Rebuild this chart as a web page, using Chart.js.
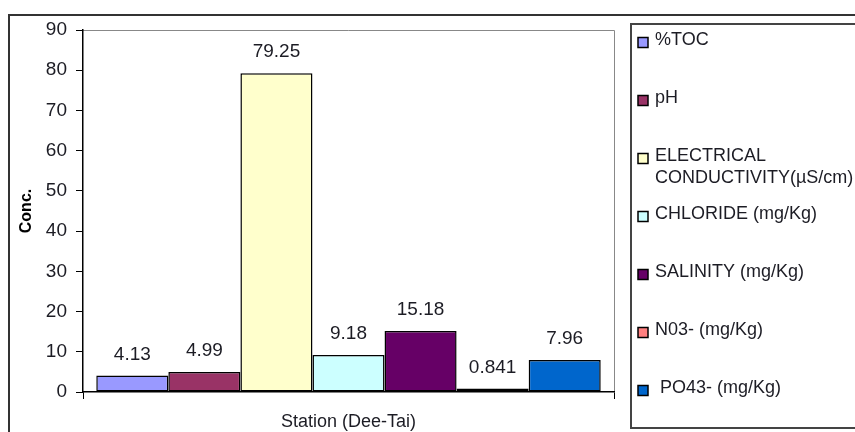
<!DOCTYPE html>
<html>
<head>
<meta charset="utf-8">
<script src="https://cdn.jsdelivr.net/npm/chart.js@4"></script>
<style>
  html, body { margin: 0; padding: 0; background: #fff; }
  canvas { display: block; }
</style>
</head>
<body>
<canvas id="concChart" width="855" height="432"></canvas>
<script>
const stations = ['Station (Dee-Tai)'];
const parameters = [
  '%TOC',
  'pH',
  'ELECTRICAL\nCONDUCTIVITY(µS/cm)',
  'CHLORIDE (mg/Kg)',
  'SALINITY (mg/Kg)',
  'N03- (mg/Kg)',
  ' PO43- (mg/Kg)'
];
const concentrations = [4.13, 4.99, 79.25, 9.18, 15.18, 0.841, 7.96];
const barColors = ['#9999FF', '#993366', '#FFFFCC', '#CCFFFF', '#660066', '#FF8080', '#0066CC'];
const yMin = 0;
const yMax = 90;
const yStep = 10;

const FONT = '"Liberation Sans", Arial, sans-serif';
const TEXT = '#1c1c24';

const datasets = parameters.map((name, i) => ({
  label: name,
  data: [concentrations[i]],
  backgroundColor: barColors[i],
  borderColor: '#000',
  borderWidth: 1.5,
  borderSkipped: false,
  barPercentage: 1,
  categoryPercentage: 0.95
}));

// frame, value labels and the boxed legend on the right
const framePlugin = {
  id: 'frame',
  beforeDraw(chart) {
    const { ctx, chartArea: a } = chart;
    ctx.save();
    ctx.fillStyle = '#fff';
    ctx.fillRect(0, 0, chart.width, chart.height);
    ctx.strokeStyle = '#333';
    ctx.lineWidth = 2;
    ctx.strokeRect(9, 15, chart.width, chart.height);
    ctx.strokeStyle = '#888';
    ctx.lineWidth = 1;
    ctx.beginPath();
    ctx.moveTo(a.left, a.top + 0.5);
    ctx.lineTo(a.right + 0.5, a.top + 0.5);
    ctx.lineTo(a.right + 0.5, a.bottom);
    ctx.stroke();
    ctx.restore();
  },
  afterDatasetsDraw(chart) {
    const ctx = chart.ctx;
    ctx.save();
    ctx.font = '19px ' + FONT;
    ctx.fillStyle = TEXT;
    ctx.textAlign = 'center';
    ctx.textBaseline = 'middle';
    chart.data.datasets.forEach((ds, i) => {
      const bar = chart.getDatasetMeta(i).data[0];
      ctx.fillText(String(ds.data[0]), bar.x, bar.y - 21);
    });
    ctx.restore();
  },
  afterDraw(chart) {
    const ctx = chart.ctx;
    ctx.save();
    ctx.strokeStyle = '#444';
    ctx.lineWidth = 2;
    ctx.strokeRect(631, 24, 300, 404);
    ctx.font = '18px ' + FONT;
    ctx.textBaseline = 'middle';
    ctx.textAlign = 'left';
    chart.data.datasets.forEach((ds, i) => {
      const y = 40 + i * 58;
      ctx.fillStyle = ds.backgroundColor;
      ctx.fillRect(638, y - 2.5, 10, 10);
      ctx.strokeStyle = '#000';
      ctx.lineWidth = 1.5;
      ctx.strokeRect(638, y - 2.5, 10, 10);
      ctx.fillStyle = TEXT;
      ds.label.split('\n').forEach((line, j) => {
        ctx.fillText(line, 655, y + j * 22);
      });
    });
    ctx.restore();
  }
};

new Chart(document.getElementById('concChart'), {
  type: 'bar',
  data: { labels: stations, datasets },
  options: {
    responsive: false,
    animation: false,
    layout: { padding: { top: 30, right: 241, left: 0, bottom: 0 } },
    plugins: {
      legend: { display: false },
      tooltip: { enabled: false }
    },
    scales: {
      x: {
        afterFit: (scale) => { scale.height = 40; },
        grid: {
          offset: true,
          drawOnChartArea: false,
          tickLength: 7,
          color: '#000'
        },
        border: { color: '#000', width: 1.5 },
        ticks: { color: TEXT, font: { family: FONT, size: 18 }, padding: 12 }
      },
      y: {
        min: yMin,
        max: yMax,
        afterFit: (scale) => { scale.width = 83; },
        grid: {
          drawOnChartArea: false,
          tickLength: 7,
          color: '#000'
        },
        border: { color: '#000', width: 1.5 },
        ticks: { stepSize: yStep, color: TEXT, font: { family: FONT, size: 19 }, padding: 9 },
        title: {
          display: true,
          text: 'Conc.',
          color: '#000',
          font: { family: FONT, size: 16, weight: 'bold' },
          padding: { top: 17, bottom: 0 }
        }
      }
    }
  },
  plugins: [framePlugin]
});
</script>
</body>
</html>
